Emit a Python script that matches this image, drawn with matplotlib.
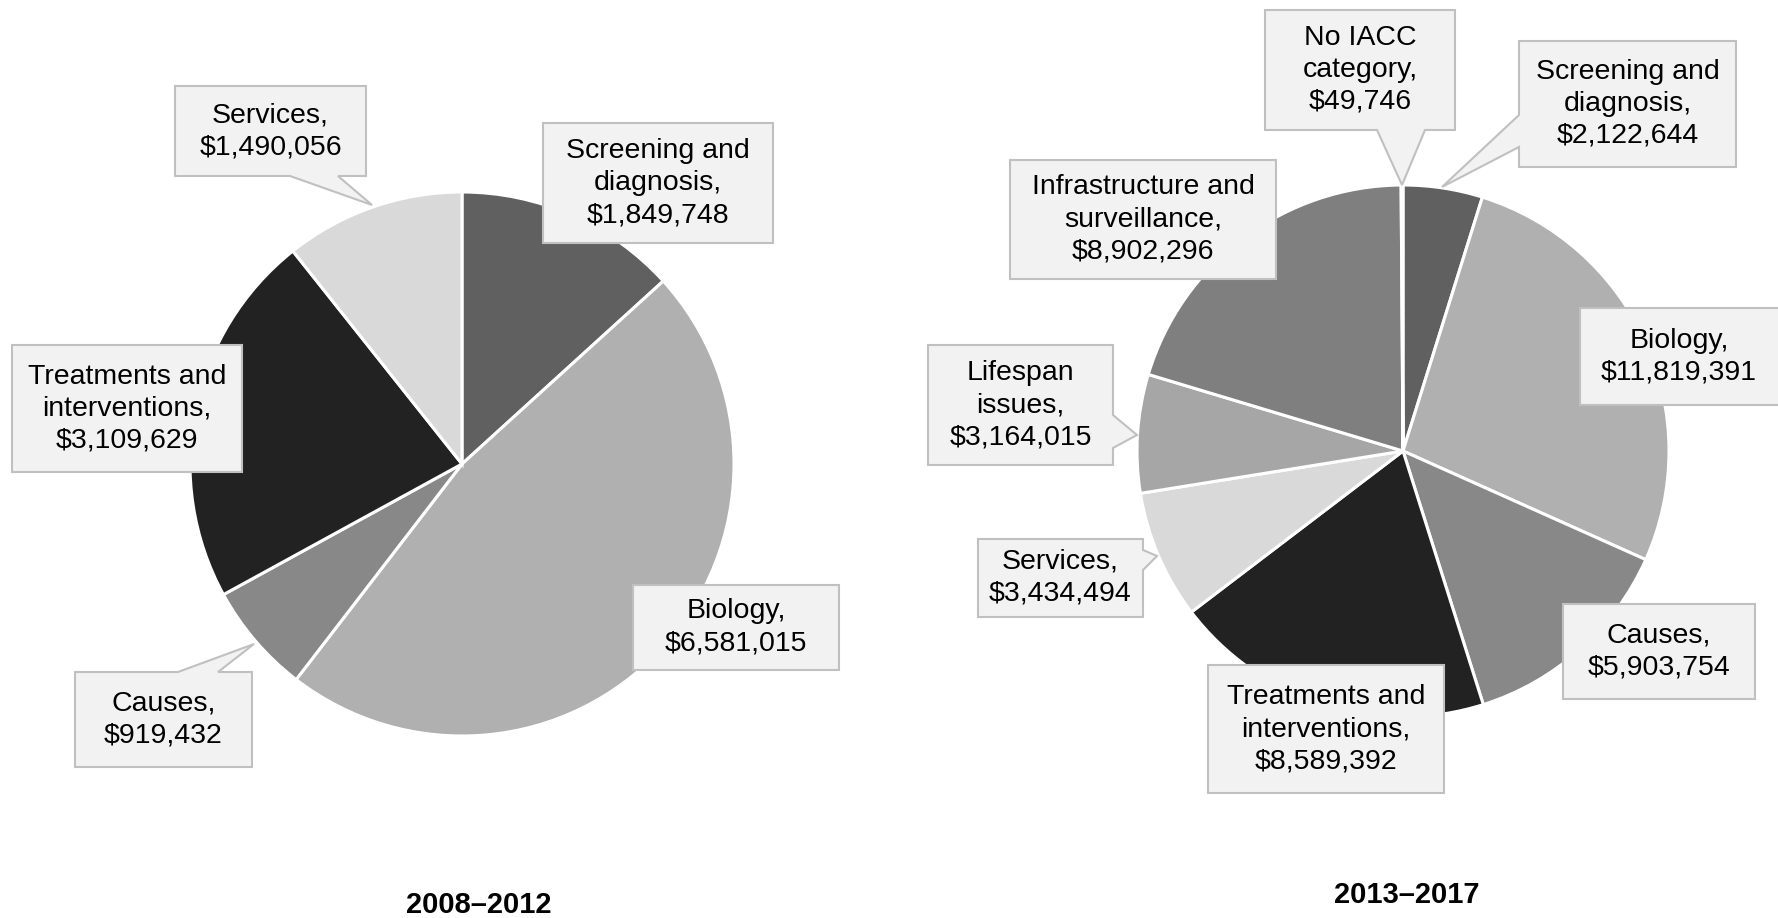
import matplotlib
matplotlib.use("Agg")
import matplotlib.pyplot as plt
from matplotlib.patches import Polygon

plt.rcParams['font.family'] = ['Liberation Sans', 'DejaVu Sans']

# 2008-2012
left_names = ["Screening and\ndiagnosis", "Biology", "Causes",
              "Treatments and\ninterventions", "Services"]
left_values = [1849748, 6581015, 919432, 3109629, 1490056]
left_colors = ["#606060", "#b0b0b0", "#888888", "#222222", "#d9d9d9"]

# 2013-2017
right_names = ["Screening and\ndiagnosis", "Biology", "Causes",
               "Treatments and\ninterventions", "Services", "Lifespan\nissues",
               "Infrastructure and\nsurveillance", "No IACC\ncategory"]
right_values = [2122644, 11819391, 5903754, 8589392, 3434494, 3164015,
                8902296, 49746]
right_colors = ["#606060", "#b0b0b0", "#888888", "#222222", "#d9d9d9",
                "#a6a6a6", "#7f7f7f", "#f2f2f2"]

titles = ["2008\u20132012", "2013\u20132017"]

W, H = 1778, 918
fig = plt.figure(figsize=(W / 100, H / 100), dpi=100)
ax = fig.add_axes([0, 0, 1, 1])
ax.axis('off')


def Y(y):
    return H - y


def callout(x0, y0, x1, y1, pointer=None):
    # box in pixel coords (y from top); pointer = (side, a, b, tipx, tipy)
    pts = [(x0, y0), (x1, y0), (x1, y1), (x0, y1)]
    if pointer:
        side, a, b, tx, ty = pointer
        if side == 'bottom':
            pts = [(x0, y0), (x1, y0), (x1, y1), (b, y1), (tx, ty), (a, y1), (x0, y1)]
        elif side == 'top':
            pts = [(x0, y0), (a, y0), (tx, ty), (b, y0), (x1, y0), (x1, y1), (x0, y1)]
        elif side == 'right':
            pts = [(x0, y0), (x1, y0), (x1, a), (tx, ty), (x1, b), (x1, y1), (x0, y1)]
        elif side == 'left':
            pts = [(x0, y0), (x1, y0), (x1, y1), (x0, y1), (x0, b), (tx, ty), (x0, a)]
    ax.add_patch(Polygon([(x, Y(y)) for x, y in pts], closed=True,
                         facecolor="#f2f2f2", edgecolor="#c0c0c0", lw=1.5, zorder=5))


def fmt(name, v):
    return f"{name},\n\\${v:,}"


def draw_pie(values, colors, cx, cy, r):
    ax.pie(values, colors=colors, startangle=90, counterclock=False,
           center=(cx, Y(cy)), radius=r,
           wedgeprops=dict(edgecolor="white", linewidth=2.2))


draw_pie(left_values, left_colors, 462, 464, 272)
draw_pie(right_values, right_colors, 1403, 451, 266)
ax.set_xlim(0, W)
ax.set_ylim(0, H)
ax.set_aspect('equal')

# label boxes: (x0, y0, x1, y1, pointer)
left_boxes = [
    (543, 123, 773, 243, None),
    (633, 585, 839, 670, None),
    (75, 672, 252, 767, ('top', 178, 218, 254, 644)),
    (12, 345, 242, 472, None),
    (175, 86, 366, 176, ('bottom', 290, 338, 372, 205)),
]
right_boxes = [
    (1519, 41, 1736, 167, ('left', 115, 147, 1442, 187)),
    (1580, 308, 1790, 405, None),
    (1563, 604, 1755, 699, None),
    (1208, 665, 1444, 793, None),
    (978, 539, 1143, 617, ('right', 550, 570, 1157, 556)),
    (928, 345, 1113, 465, ('right', 415, 448, 1137, 435)),
    (1010, 160, 1276, 279, None),
    (1265, 10, 1455, 130, ('bottom', 1377, 1425, 1402, 185)),
]

for names, values, boxes in [(left_names, left_values, left_boxes),
                             (right_names, right_values, right_boxes)]:
    for name, v, (x0, y0, x1, y1, p) in zip(names, values, boxes):
        callout(x0, y0, x1, y1, p)
        ax.text((x0 + min(x1, W + 12)) / 2 if x1 <= W else 1679, Y((y0 + y1) / 2),
                fmt(name, v), ha='center', va='center', fontsize=20.5,
                color="#000000", linespacing=1.3, zorder=6)

ax.text(479, Y(905), titles[0], ha='center', va='center', fontsize=21,
        fontweight='bold')
ax.text(1407, Y(895), titles[1], ha='center', va='center', fontsize=21,
        fontweight='bold')

fig.savefig("out.png", dpi=100)
